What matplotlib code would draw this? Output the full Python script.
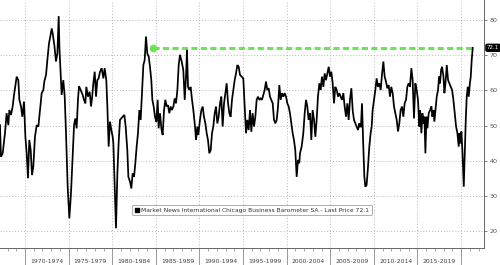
import matplotlib
matplotlib.use("Agg")
import matplotlib.pyplot as plt
from matplotlib.lines import Line2D
import matplotlib.transforms as mtransforms

years = [
 1967.13,1967.24,1967.44,1967.70,1967.89,1968.09,1968.20,1968.39,1968.58,1968.74,
 1969.04,1969.23,1969.35,1969.54,1969.69,1969.88,1970.04,1970.19,1970.34,1970.49,
 1970.65,1970.80,1970.95,1971.14,1971.34,1971.53,1971.72,1971.91,1972.10,1972.21,
 1972.41,1972.56,1972.75,1972.86,1973.06,1973.17,1973.36,1973.55,1973.71,1973.86,
 1973.94,
 1974.01,1974.20,1974.39,1974.55,1974.70,1974.89,1975.08,1975.27,1975.46,1975.62,
 1975.77,1975.92,1976.07,1976.19,1976.38,1976.61,1976.76,1976.92,1977.03,1977.22,
 1977.41,1977.57,1977.72,1977.83,1977.99,1978.14,1978.29,1978.44,1978.60,1978.79,
 1978.98,1979.13,1979.32,1979.44,1979.59,1979.74,1979.90,1980.05,1980.13,1980.24,
 1980.43,1980.59,1980.74,
 1980.89,1981.20,1981.39,1981.54,1981.73,1981.85,1982.04,1982.19,1982.34,1982.50,
 1982.65,1982.80,1982.95,1983.11,1983.26,1983.37,1983.57,1983.72,1983.87,1984.02,
 1984.18,1984.33,1984.48,1984.60,1984.75,1984.90,1985.06,1985.21,1985.32,1985.48,
 1985.63,1985.78,1985.94,1986.09,1986.24,1986.39,1986.55,1986.70,1986.85,1987.01,
 1987.16,1987.31,1987.47,1987.62,
 1987.77,1987.96,1988.15,1988.31,1988.46,1988.57,1988.69,1988.84,1988.99,1989.15,
 1989.30,1989.49,1989.61,1989.76,1989.87,1990.06,1990.22,1990.37,1990.52,1990.68,
 1990.83,1990.98,1991.13,1991.29,1991.44,1991.59,1991.75,1991.90,1992.05,1992.20,
 1992.36,1992.51,1992.66,1992.82,1992.97,1993.12,1993.28,1993.43,1993.58,1993.73,
 1993.89,1994.04,1994.19,1994.35,1994.50,
 1994.65,1994.84,1995.03,1995.19,1995.34,1995.49,1995.64,1995.80,1995.95,1996.10,
 1996.26,1996.41,1996.56,1996.71,1996.87,1997.02,1997.17,1997.33,1997.48,1997.63,
 1997.78,1997.94,1998.09,1998.24,1998.40,1998.55,1998.70,1998.86,1999.01,1999.16,
 1999.31,1999.47,1999.62,1999.77,1999.93,2000.08,2000.23,2000.38,2000.54,2000.69,
 2000.84,2000.99,2001.15,2001.30,2001.45,
 2001.53,2001.72,2001.91,2002.07,2002.22,2002.37,2002.52,2002.68,2002.83,2002.98,
 2003.14,2003.29,2003.44,2003.59,2003.75,2003.90,2004.05,2004.21,2004.36,2004.51,
 2004.66,2004.82,2004.97,2005.12,2005.28,2005.43,2005.58,2005.74,2005.89,2006.04,
 2006.19,2006.35,2006.50,2006.65,2006.81,2006.96,2007.11,2007.26,2007.42,2007.57,
 2007.72,2007.88,2008.03,2008.18,2008.33,
 2008.41,2008.52,2008.64,2008.79,2008.91,2009.02,2009.17,2009.33,2009.48,2009.63,
 2009.75,2009.86,2010.02,2010.17,2010.32,2010.47,2010.63,2010.78,2010.93,2011.09,
 2011.24,2011.39,2011.54,2011.70,2011.85,2012.00,2012.16,2012.31,2012.46,2012.62,
 2012.77,2012.92,2013.07,2013.23,2013.38,2013.53,2013.69,2013.84,2013.99,2014.14,
 2014.30,2014.45,2014.60,2014.76,2014.91,2015.06,2015.22,
 2015.30,2015.45,2015.57,2015.68,2015.80,2015.91,2016.03,2016.14,2016.29,2016.45,
 2016.60,2016.71,2016.83,2016.94,2017.10,2017.21,2017.36,2017.48,2017.59,2017.71,
 2017.82,2017.98,2018.09,2018.21,2018.36,2018.51,2018.66,2018.82,2018.97,2019.12,
 2019.28,2019.43,2019.58,2019.73,2019.81,2019.93,2020.04,2020.15,2020.31,2020.42,
 2020.54,2020.65,2020.77,2020.88,2020.99,2021.11,2021.22,2021.34,
]

values = [
 50.1,41.1,42.1,47.8,53.5,50.1,54.4,53.0,55.4,58.7,
 63.9,62.9,57.3,55.4,52.5,56.8,46.8,42.1,35.0,45.9,
 43.0,35.9,38.3,46.8,50.1,49.7,54.4,59.2,60.1,62.5,
 64.4,68.6,73.4,74.8,77.6,76.2,72.9,68.2,70.5,81.1,
 72.4,
 68.6,58.7,62.9,58.2,47.8,32.6,23.6,30.7,41.1,50.1,
 52.0,49.2,57.3,61.2,60.1,58.7,57.3,56.3,61.0,58.2,
 59.6,55.4,58.7,62.0,65.3,58.2,62.9,63.4,65.3,66.3,
 63.4,66.3,62.9,55.4,44.0,51.1,48.7,46.8,44.9,36.4,
 20.8,36.4,45.4,
 51.6,52.5,53.0,49.7,43.0,35.4,34.0,32.1,36.4,35.4,
 39.3,44.0,47.8,54.4,51.6,57.3,67.2,68.6,75.3,70.5,
 69.6,66.7,62.9,57.3,55.4,52.5,51.1,57.3,49.2,53.5,
 49.2,47.3,54.4,57.3,55.4,55.8,53.5,55.4,54.4,55.4,
 57.7,56.3,60.1,67.2,
 70.1,68.2,65.8,57.3,63.9,71.5,61.0,60.1,61.0,57.3,
 54.4,49.7,45.9,49.7,47.3,51.6,54.4,55.4,52.5,50.6,
 47.8,45.9,42.1,43.0,47.8,49.7,53.5,55.4,50.6,52.5,
 56.3,58.2,49.7,56.3,59.2,62.0,56.3,53.5,52.5,57.3,
 60.1,62.9,64.8,67.2,66.7,
 64.4,63.9,63.4,55.4,47.8,51.6,48.7,54.4,48.2,53.5,
 49.7,52.5,57.3,58.2,57.3,57.7,57.3,58.7,60.1,62.5,
 60.1,60.6,58.2,57.3,56.3,51.6,50.6,51.6,55.4,61.5,
 57.3,59.2,58.2,59.2,58.2,56.3,55.4,53.5,50.6,47.8,
 45.9,43.0,35.4,40.2,39.3,
 42.1,44.0,47.8,53.5,57.3,55.4,51.6,53.5,45.9,54.4,
 51.6,46.8,51.6,58.2,62.0,60.1,63.9,61.0,64.8,62.9,
 64.8,66.7,63.9,65.3,62.0,56.3,61.0,60.1,58.2,59.2,
 58.2,57.3,59.2,55.4,52.5,56.3,51.6,57.3,60.6,54.4,
 51.6,50.6,49.7,48.7,50.6,
 49.7,49.7,56.3,44.0,35.5,32.6,33.1,38.3,44.0,47.8,
 49.7,54.4,57.3,60.1,63.4,61.0,62.0,60.1,64.4,68.2,
 63.9,62.5,60.6,61.5,58.2,61.0,59.2,55.4,53.5,51.6,
 48.3,50.6,54.4,55.4,52.5,56.3,57.3,61.0,62.0,61.0,
 66.3,62.9,52.0,62.0,60.1,57.3,49.7,
 54.4,47.8,53.5,50.6,52.5,42.1,52.5,49.2,53.5,54.4,
 55.4,52.5,54.4,51.1,55.4,58.2,60.1,63.9,62.0,65.8,
 66.7,63.9,59.2,62.0,67.2,62.9,62.0,61.0,60.1,57.3,
 53.5,49.7,47.8,44.0,47.8,44.9,48.3,43.0,32.6,42.1,
 51.6,58.2,61.0,58.2,61.5,63.9,68.6,72.1,
]

period_labels = ["1970-1974", "1975-1979", "1980-1984", "1985-1989", "1990-1994",
                 "1995-1999", "2000-2004", "2005-2009", "2010-2014", "2015-2019"]
period_starts = [1970, 1975, 1980, 1985, 1990, 1995, 2000, 2005, 2010, 2015]
separators = [1970, 1975, 1980, 1985, 1990, 1995, 2000, 2005, 2010, 2015, 2020]
y_ticks = [20, 30, 40, 50, 60, 70, 80]

last_price = 72.1
ref_start = 1984.7
legend_label = "Market News International Chicago Business Barometer SA - Last Price 72.1"

fig = plt.figure(figsize=(5.0, 2.65), dpi=100)
ax = fig.add_axes([0.0, 17/265, 484/500, 248/265])
ax.set_xlim(1967.13, 2022.63)
ax.set_ylim(15.17, 85.69)

grid_c = "#b8b8b8"
for y in y_ticks:
    ax.axhline(y, color=grid_c, lw=0.7, ls=(0, (1, 2)), zorder=0)
for s in separators:
    ax.axvline(s, color=grid_c, lw=0.7, ls=(0, (1, 2)), zorder=0)

ax.plot(years, values, color="black", lw=1.25, zorder=3, solid_joinstyle="miter")

ax.plot([ref_start, years[-1]], [last_price, last_price], color="#6ee35a", lw=2.2,
        dashes=(2.0, 1.1), zorder=2, solid_capstyle="butt")
ax.plot([ref_start], [last_price], marker="o", ms=4.5, color="#6ee35a", zorder=2)

for sp in ["left", "top"]:
    ax.spines[sp].set_visible(False)
ax.spines["right"].set_color("#666666")
ax.spines["right"].set_linewidth(0.7)
ax.spines["bottom"].set_color("#666666")
ax.spines["bottom"].set_linewidth(0.7)

ax.yaxis.tick_right()
ax.set_yticks(y_ticks)
ax.set_yticklabels([str(v) for v in y_ticks])
ax.tick_params(axis="y", which="major", length=2, width=0.6, color="#666666",
               labelsize=4.6, labelcolor="#555555", pad=2)

ax.set_xticks(separators)
ax.set_xticklabels([""] * len(separators))
ax.set_xticks(list(range(1968, 2023)), minor=True)
ax.tick_params(axis="x", which="major", length=12.5, width=0.6, color="#888888")
ax.tick_params(axis="x", which="minor", length=1.8, width=0.5, color="#888888")

trans = mtransforms.blended_transform_factory(ax.transData, ax.transAxes)
for st, lab in zip(period_starts, period_labels):
    ax.text(st + 2.5, -0.055, lab, transform=trans, ha="center", va="center",
            fontsize=4.4, color="#444444")

ytrans = mtransforms.blended_transform_factory(ax.transAxes, ax.transData)
ax.text(1.006, last_price, f"{last_price}", transform=ytrans, ha="left", va="center",
        fontsize=4.0, color="white",
        bbox=dict(boxstyle="round,pad=0.18,rounding_size=0.25", fc="black", ec="black"),
        clip_on=False, zorder=5)

handle = Line2D([], [], marker="s", color="black", ls="none", ms=3.5)
leg = ax.legend([handle], [legend_label], loc="center", bbox_to_anchor=(0.52, 0.153),
                fontsize=4.3, frameon=True, fancybox=True, handlelength=0.8,
                handletextpad=0.3, borderpad=0.45, borderaxespad=0)
leg.get_frame().set_edgecolor("#999999")
leg.get_frame().set_linewidth(0.7)
for t in leg.get_texts():
    t.set_color("#333333")

fig.savefig("out.png", dpi=100, facecolor="white")
